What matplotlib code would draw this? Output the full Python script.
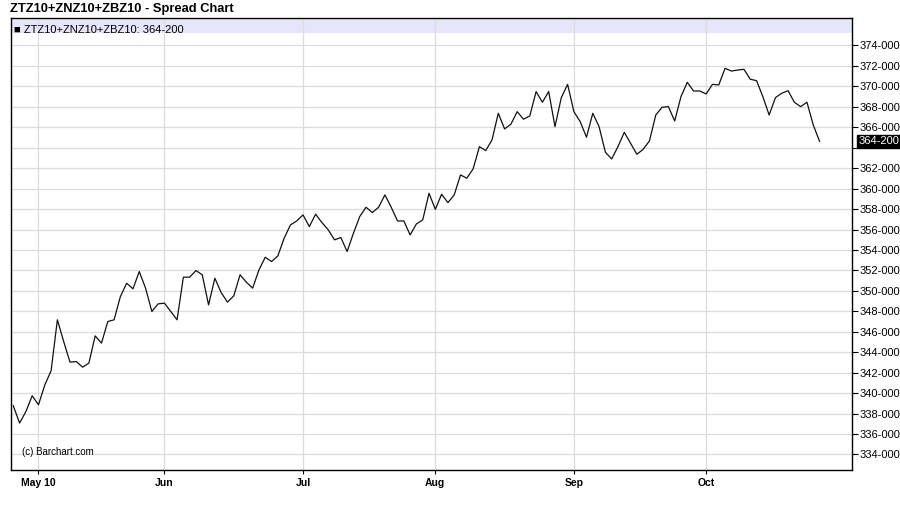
import numpy as np
import pandas as pd
import matplotlib
matplotlib.use("Agg")
import matplotlib.pyplot as plt
import matplotlib.ticker as mticker

plt.rcParams["font.family"] = ["Liberation Sans", "DejaVu Sans"]

title = "ZTZ10+ZNZ10+ZBZ10 - Spread Chart"
series_name = "ZTZ10+ZNZ10+ZBZ10"

# trading days, Apr 27 2010 .. Oct 27 2010
holidays = ["2010-05-31", "2010-07-05", "2010-09-06"]
dates = pd.bdate_range("2010-04-27", "2010-10-27", freq="C", holidays=holidays)

# daily closes
closes = [
    338.76, 337.07, 338.20, 339.74, 338.86, 340.80, 342.18, 347.17, 345.05, 343.03,
    343.09, 342.54, 342.93, 345.60, 344.89, 347.00, 347.17, 349.44, 350.75, 350.20,
    351.89, 350.26, 347.98, 348.73, 348.80, 347.98, 347.17, 351.34, 351.34, 351.99,
    351.57, 348.63, 351.24, 349.84, 348.90, 349.51, 351.57, 350.85, 350.27, 352.05,
    353.29, 352.87, 353.42, 355.15, 356.45, 356.84, 357.43, 356.29, 357.50, 356.68,
    355.97, 354.99, 355.22, 353.85, 355.64, 357.27, 358.18, 357.66, 358.18, 359.39,
    358.18, 356.84, 356.84, 355.47, 356.55, 356.94, 359.55, 357.98, 359.45, 358.63,
    359.39, 361.34, 361.02, 361.93, 364.10, 363.72, 364.76, 367.37, 365.84, 366.30,
    367.53, 366.79, 367.11, 369.49, 368.45, 369.49, 366.06, 368.90, 370.20, 367.53,
    366.55, 365.03, 367.37, 366.06, 363.56, 362.90, 364.11, 365.51, 364.44, 363.36,
    363.85, 364.67, 367.20, 367.96, 368.02, 366.62, 369.00, 370.40, 369.55, 369.55,
    369.26, 370.20, 370.14, 371.77, 371.50, 371.60, 371.67, 370.70, 370.56, 369.00,
    367.20, 368.90, 369.33, 369.58, 368.45, 368.02, 368.45, 366.23, 364.625,
]

month_labels = ["May 10", "Jun", "Jul", "Aug", "Sep", "Oct"]
y_ticks = np.arange(334, 376, 2)

n = min(len(dates), len(closes))
dates = dates[:n]
closes = closes[:n]
x = np.arange(n)

# first trading day of each month (skip April)
months = pd.Series(dates.month)
month_start = [i for i in range(1, n) if months[i] != months[i - 1]]


def fmt32(v, pos=None):
    whole = int(np.floor(v))
    frac = (v - whole) * 32
    return "%d-%03d" % (whole, round(frac * 10))


fig = plt.figure(figsize=(9, 5.11), dpi=100)
ax = fig.add_axes([0.0119, 0.0802, 0.9351, 0.884])
ax.set_axisbelow(True)

ax.plot(x, closes, color="#111111", linewidth=0.9, zorder=3)

ax.set_xlim(-0.41, 133.2)
ax.set_ylim(332.48, 376.66)

ax.set_xticks(month_start)
ax.set_xticklabels(month_labels[: len(month_start)], fontweight="bold", fontsize=7.5)
ax.set_yticks(y_ticks)
ax.yaxis.set_major_formatter(mticker.FuncFormatter(fmt32))
ax.yaxis.tick_right()
ax.tick_params(axis="y", labelsize=8, length=4, width=0.8, pad=1, colors="black")
ax.tick_params(axis="x", length=3, width=0.8, pad=2.5)

# hide the tick label sitting under the last-value box
last = closes[-1]
for lab, t in zip(ax.get_yticklabels(), y_ticks):
    if abs(t - last) < 1.0:
        lab.set_visible(False)

ax.grid(True, color="#dcdcdc", linewidth=0.9)
for s in ax.spines.values():
    s.set_linewidth(1.0)
    s.set_color("black")
    s.set_zorder(5)

# legend band along the top of the plot
ax.axhspan(375.25, 376.66, color="#e6e6fa", zorder=0, linewidth=0)
ax.text(0.004, 0.985, "\u25a0 " + series_name + ": " + fmt32(last),
        transform=ax.transAxes, fontsize=8, va="top", ha="left", zorder=4)

# last value box on the price axis
ax.annotate(fmt32(last), xy=(1.0, last), xycoords=("axes fraction", "data"),
            xytext=(4.5, 0), textcoords="offset points", fontsize=8,
            color="white", va="center", ha="left",
            bbox=dict(boxstyle="square,pad=0.12", fc="black", ec="black"))

ax.text(0.014, 0.028, "(c) Barchart.com", transform=ax.transAxes,
        fontsize=7, va="bottom", ha="left", zorder=4)

fig.text(0.011, 0.995, title, fontsize=9.3, fontweight="bold", va="top", ha="left")

fig.savefig("out.png", dpi=100)
